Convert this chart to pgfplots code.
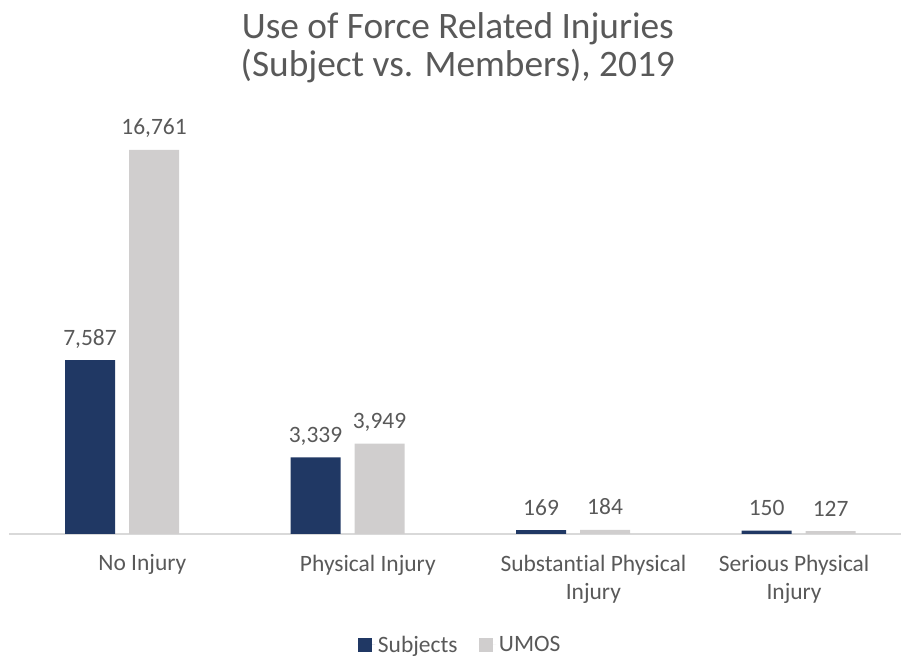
\documentclass[border=0pt]{standalone}
\usepackage{pgfplots}
\pgfplotsset{compat=1.18}
\usepackage{fontspec}
\setmainfont{Carlito}[Ligatures=NoCommon]
\definecolor{navy}{HTML}{203864}
\definecolor{lgray}{HTML}{D0CECE}
\definecolor{txt}{HTML}{595959}
\definecolor{axgray}{HTML}{D9D9D9}
\begin{document}
\begin{tikzpicture}
\useasboundingbox (0,0) rectangle (675.75pt,492pt);
\begin{axis}[
  at={(6.94pt,91.5pt)}, anchor=south west,
  scale only axis, width=668.81pt, height=309.3pt,
  ybar=10.5pt, bar width=37.5pt,
  xmin=-0.5, xmax=3.454, ymin=0, ymax=18000,
  enlargelimits=false, clip=false,
  axis x line=bottom, axis y line=none,
  x axis line style={draw=axgray, line width=1.1pt, -},
  xtick={0.09,1.09,2.09,2.98},
  xticklabels={No Injury, Physical Injury, {Substantial Physical\\Injury}, {Serious Physical\\Injury}},
  major tick length=0pt, xtick style={draw=none}, ytick=\empty,
  xticklabel style={align=center, text=txt, font=\fontsize{17.6}{21}\selectfont, inner sep=0pt, anchor=north, yshift=-15.4pt},
  nodes near coords={\pgfmathprintnumber[assume math mode=true,1000 sep={,}]{\pgfplotspointmeta}},
  nodes near coords style={anchor=base, inner sep=0pt, yshift=11.25pt, text=txt, font=\fontsize{17.6}{21}\selectfont},
  title={Use of Force Related Injuries\\(Subject vs. Members), 2019},
  title style={at={(0.503,1.0911)}, anchor=base, align=center, text=txt, inner sep=0pt, font=\fontsize{28}{28.5}\selectfont},
  legend style={at={(0.506,-0.269)}, anchor=center, draw=none, fill=none, legend columns=2, font=\fontsize{17.6}{21}\selectfont, text=txt, inner sep=0pt,
    /tikz/every even column/.append style={column sep=14pt}},
  legend image code/.code={\fill[#1] (0pt,-5.25pt) rectangle (10.5pt,5.25pt); \path (0pt,0pt) -- (13pt,0pt);},
]
\addplot[fill=navy, draw=none] coordinates {(0,7587) (1,3339) (2,169) (3,150)};
\addplot[fill=lgray, draw=none] coordinates {(0,16761) (1,3949) (2,184) (3,127)};
\legend{Subjects, UMOS}
\end{axis}
\end{tikzpicture}
\end{document}
